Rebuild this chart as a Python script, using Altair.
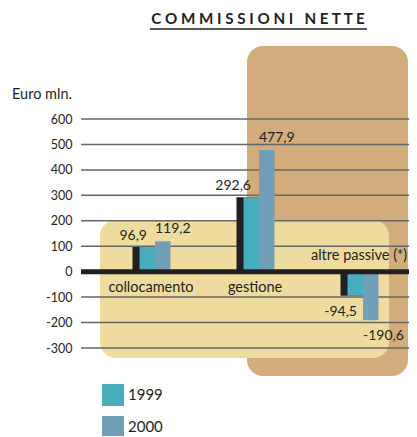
import altair as alt
import pandas as pd

categories = ["collocamento", "gestione", "altre passive (*)"]
years = ["1999", "2000"]
values_1999 = [96.9, 292.6, -94.5]
values_2000 = [119.2, 477.9, -190.6]
y_ticks = [600, 500, 400, 300, 200, 100, 0, -100, -200, -300]
chart_title = "COMMISSIONI NETTE"
unit_label = "Euro mln."

TEAL = "#47AEBE"
BLUE = "#729FB8"
TAN = "#D3AC7B"
SAND = "#EEDC9E"
INK = "#231F20"
GRID = "#666666"
FONT = "Lato"

rows = []
for cat, a, b in zip(categories, values_1999, values_2000):
    for yr, v in ((years[0], a), (years[1], b)):
        rows.append({"categoria": cat, "anno": yr, "valore": v,
                     "etichetta": f"{v:.1f}".replace(".", ",")})
df = pd.DataFrame(rows)
cat_df = pd.DataFrame({"categoria": categories,
                       "segno": [1 if v >= 0 else -1 for v in values_1999]})
tick_df = pd.DataFrame({"tick": y_ticks})
blank = alt.Data(values=[{}])

W, H = 328, 229

x_enc = alt.X("categoria:N", sort=categories, axis=None,
              scale=alt.Scale(range=[22, 334], paddingInner=0, paddingOuter=0))
xoff_enc = alt.XOffset("anno:N", sort=years,
                       scale=alt.Scale(range=[36.5, 67.5], paddingInner=0, paddingOuter=0))
# the dark "shadow" strip sits 7px left of the 1999 bar
xoff_shadow = alt.XOffset("anno:N", sort=years,
                          scale=alt.Scale(range=[29.5, 60.5], paddingInner=0, paddingOuter=0))
y_scale = alt.Scale(domain=[-300, 600], nice=False, zero=False)
y_axis = alt.Axis(values=y_ticks, labelExpr="'' + datum.value", domain=False,
                  ticks=False, grid=False, labelFontSize=12.5, labelColor=INK,
                  labelFont=FONT, labelPadding=9, title=None)

bg_tan = alt.Chart(blank).mark_rect(color=TAN, cornerRadius=16).encode(
    x=alt.value(166), x2=alt.value(327), y=alt.value(-73), y2=alt.value(257))
bg_sand = alt.Chart(blank).mark_rect(color=SAND, cornerRadius=16).encode(
    x=alt.value(19), x2=alt.value(308), y=alt.value(101), y2=alt.value(239))

grid = alt.Chart(tick_df).mark_rule(color=GRID, strokeWidth=1.5).encode(
    y=alt.Y("tick:Q", scale=y_scale, axis=y_axis))

shadow = alt.Chart(df).transform_filter(f"datum.anno == '{years[0]}'").mark_bar(
    color=INK).encode(
    x=x_enc, xOffset=xoff_shadow, y=alt.Y("valore:Q", scale=y_scale, axis=y_axis))

bars = alt.Chart(df).mark_bar(opacity=1).encode(
    x=x_enc, xOffset=xoff_enc,
    y=alt.Y("valore:Q", scale=y_scale, axis=y_axis),
    color=alt.Color("anno:N", sort=years,
                    scale=alt.Scale(domain=years, range=[TEAL, BLUE]),
                    legend=alt.Legend(title=None, orient="none", legendX=21, legendY=265,
                                      symbolType="square", symbolSize=484,
                                      symbolStrokeWidth=0, symbolOpacity=1,
                                      labelFontSize=15, labelFont=FONT, labelColor=INK,
                                      labelOffset=4, rowPadding=10, padding=0,
                                      direction="vertical")))

zero_line = alt.Chart(blank).mark_rule(color=INK, strokeWidth=5).encode(
    y=alt.datum(0, scale=y_scale, axis=y_axis))


def value_labels(year, positive, align, dx, dy):
    cond = f"datum.anno == '{year}' && datum.valore {'>' if positive else '<'} 0"
    return alt.Chart(df).transform_filter(cond).mark_text(
        align=align, baseline="middle", dx=dx, dy=dy, fontSize=14, font=FONT,
        color=INK).encode(
        x=x_enc,
        y=alt.Y("valore:Q", scale=y_scale, axis=y_axis), text="etichetta:N")


def cat_labels(sign, dy):
    return alt.Chart(cat_df).transform_filter(f"datum.segno == {sign}").mark_text(
        fontSize=14.5, font=FONT, color=INK, dx=-4, dy=dy, baseline="middle").encode(
        x=x_enc, y=alt.datum(0, scale=y_scale, axis=y_axis), text="categoria:N")


spaced = "\u00a0".join(list(chart_title)).replace("\u00a0\u00a0\u00a0", "\u00a0\u00a0\u00a0\u00a0")
title_txt = alt.Chart(blank).mark_text(
    text=spaced, fontSize=15.2, fontWeight="bold", font=FONT, color=INK,
    align="center", baseline="middle").encode(x=alt.value(177), y=alt.value(-100))
underline = alt.Chart(blank).mark_rule(color=INK, strokeWidth=1.5).encode(
    x=alt.value(69), x2=alt.value(286), y=alt.value(-90))
unit_txt = alt.Chart(blank).mark_text(
    text=unit_label, fontSize=14.5, font=FONT, color=INK, align="left",
    baseline="middle").encode(x=alt.value(-69), y=alt.value(-24))

chart = alt.layer(
    bg_tan, bg_sand, grid, shadow, bars, zero_line,
    value_labels(years[0], True, "right", -8, -11),
    value_labels(years[0], False, "right", -6, 16),
    value_labels(years[1], True, "left", 0, -12),
    value_labels(years[1], False, "left", 0, 16),
    cat_labels(1, 16), cat_labels(-1, -16),
    title_txt, underline, unit_txt,
).resolve_scale(xOffset="independent").properties(
    width=W, height=H,
    padding={"left": 73, "top": 111, "right": 0, "bottom": 88},
    autosize=alt.AutoSizeParams(type="none"),
    background="white",
).configure_view(stroke=None)

chart.save("out.html", embed_options={"renderer": "svg", "actions": False})
